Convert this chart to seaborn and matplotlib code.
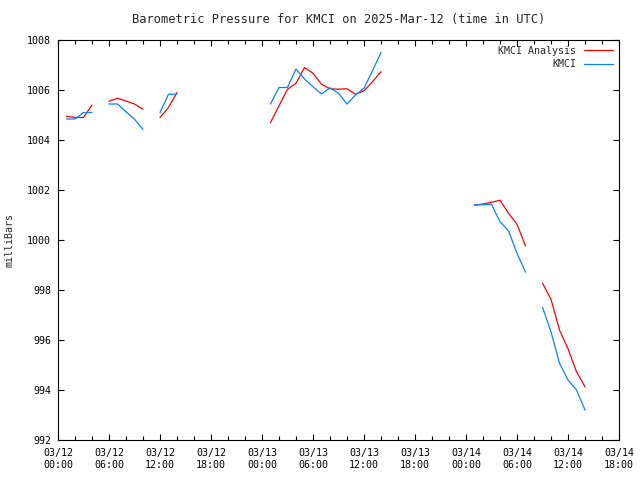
import numpy as np
import pandas as pd
import matplotlib
matplotlib.use("Agg")
import matplotlib.pyplot as plt
import matplotlib.dates as mdates
import seaborn as sns

# hourly values, NaN = no data (line breaks there)
hours = list(range(0, 63))
nan = np.nan
analysis = [nan, 1004.95, 1004.9, 1004.9, 1005.4, nan,
            1005.55, 1005.67, 1005.56, 1005.44, 1005.23, nan,
            1004.9, 1005.3, 1005.9,
            nan, nan, nan, nan, nan, nan, nan, nan, nan, nan,
            1004.7, 1005.37, 1006.03, 1006.27, 1006.9, 1006.67, 1006.23,
            1006.05, 1006.03, 1006.05, 1005.83, 1005.97, 1006.33, 1006.73,
            nan, nan, nan, nan, nan, nan, nan, nan, nan, nan,
            1001.39, 1001.44, 1001.51, 1001.59, 1001.07, 1000.63, 999.76, nan,
            998.27, 997.63, 996.4, 995.65, 994.73, 994.13]
observed = [nan, 1004.84, 1004.84, 1005.1, 1005.1, nan,
            1005.44, 1005.44, 1005.13, 1004.83, 1004.43, nan,
            1005.1, 1005.83, 1005.83,
            nan, nan, nan, nan, nan, nan, nan, nan, nan, nan,
            1005.44, 1006.1, 1006.1, 1006.84, 1006.44, 1006.13, 1005.84,
            1006.09, 1005.87, 1005.44, 1005.8, 1006.07, 1006.77, 1007.5,
            nan, nan, nan, nan, nan, nan, nan, nan, nan, nan,
            1001.41, 1001.41, 1001.43, 1000.73, 1000.37, 999.47, 998.72, nan,
            997.31, 996.33, 995.07, 994.4, 994.0, 993.2]

start = pd.Timestamp("2025-03-12 00:00")
times = start + pd.to_timedelta(hours, unit="h")


def segments(values):
    v = pd.Series(values)
    seg = v.isna().cumsum()
    df = pd.DataFrame({"time": times, "p": v, "seg": seg})
    return df.dropna()


df_an = segments(analysis)
df_ob = segments(observed)

sns.set_style("ticks")
plt.rcParams["font.family"] = ["DejaVu Sans Mono"]
plt.rcParams["font.size"] = 7.2

fig = plt.figure(figsize=(6.4, 4.8), dpi=100)
ax = fig.add_axes([58 / 640, 40 / 480, 561 / 640, 400 / 480])

sns.lineplot(data=df_an, x="time", y="p", units="seg", estimator=None,
             color="#ff0000", lw=0.9, ax=ax, label="KMCI Analysis")
sns.lineplot(data=df_ob, x="time", y="p", units="seg", estimator=None,
             color="#0a80ff", lw=0.9, ax=ax, label="KMCI")

ax.set_xlim(start, start + pd.Timedelta(hours=66))
ax.set_ylim(992, 1008)
ax.set_yticks(range(992, 1009, 2))
ax.xaxis.set_major_locator(mdates.HourLocator(byhour=range(0, 24, 6)))
ax.xaxis.set_minor_locator(mdates.HourLocator(byhour=range(0, 24, 2)))
ax.xaxis.set_major_formatter(mdates.DateFormatter("%m/%d\n%H:%M"))

for s in ax.spines.values():
    s.set_color("black")
    s.set_linewidth(0.8)
ax.tick_params(which="both", direction="in", top=True, right=True,
               color="black", width=0.8, labelcolor="black")
ax.tick_params(which="major", length=4)
ax.tick_params(which="minor", length=3)
ax.tick_params(axis="x", pad=6)
ax.tick_params(axis="y", pad=5)

ax.set_xlabel("")
ax.set_ylabel("milliBars", labelpad=9)
ax.set_title("Barometric Pressure for KMCI on 2025-Mar-12 (time in UTC)", pad=12.5)

# one legend entry per series
handles, labels = ax.get_legend_handles_labels()
seen = {}
for h, l in zip(handles, labels):
    seen.setdefault(l, h)
leg = ax.legend(list(seen.values()), list(seen.keys()), loc="upper right",
                markerfirst=False, frameon=False,
                handlelength=2.9, handletextpad=0.8, labelspacing=0.35,
                borderaxespad=0.2)

fig.savefig("out.png", dpi=100)
